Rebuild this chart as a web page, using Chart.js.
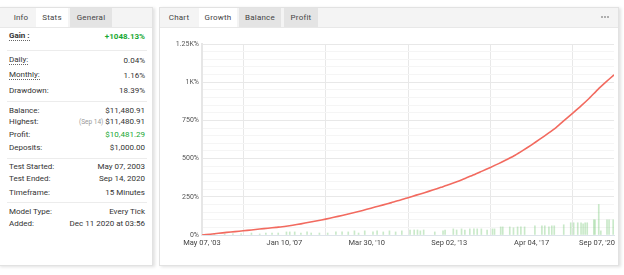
<!DOCTYPE html>
<html>
<head>
<meta charset="utf-8">
<script src="https://cdn.jsdelivr.net/npm/chart.js@4.4.0/dist/chart.umd.min.js"></script>
<style>
  body { margin: 0; background: #fff; font-family: Roboto, "Liberation Sans", sans-serif; color: #333; }
  .panel { position: absolute; background: #fff; border: 1px solid #e2e2e2; box-shadow: 2px 1px 3px rgba(0,0,0,0.12); overflow: hidden; }
  .head { position: absolute; left: 0; right: 0; top: 0; height: 19px; background: #f4f4f4; border-bottom: 1px solid #e8e8e8; }
  .tab { position: absolute; top: 0; height: 19px; line-height: 19px; font-size: 8px; text-align: center; color: #444; letter-spacing: 0.2px; }
  .tab.on { background: #fff; }
  .tab.dim { background: #e4e4e4; }
  .row { position: absolute; left: 10px; right: 7px; font-size: 8px; height: 11px; line-height: 11px; }
  .row .k { position: absolute; left: 0; }
  .row .k.tip { border-bottom: 1px dotted #666; line-height: 9px; }
  .row .v { position: absolute; right: 0; }
  .green { color: #17a832; }
  .small { color: #999; font-size: 6.5px; }
  .sep { position: absolute; left: 8px; right: 5px; height: 1px; background: #ececec; }
  .dots { position: absolute; top: 8px; width: 2px; height: 2px; border-radius: 1px; background: #999; }
</style>
</head>
<body>
<div class="panel" id="left" style="left:-2px; top:7px; width:153px; height:257px;">
  <div class="head">
    <div class="tab" style="left:9px; width:26px;">Info</div>
    <div class="tab on" style="left:37px; width:32px;">Stats</div>
    <div class="tab dim" style="left:71px; width:42px;">General</div>
  </div>
  <div class="row" style="top:23px;"><span class="k tip" style="font-weight:bold;">Gain :</span><span class="v green" style="font-weight:bold;">+1048.13%</span></div>
  <div class="sep" style="top:42px;"></div>
  <div class="row" style="top:47px;"><span class="k tip">Daily:</span><span class="v">0.04%</span></div>
  <div class="row" style="top:62px;"><span class="k tip">Monthly:</span><span class="v">1.16%</span></div>
  <div class="row" style="top:77px;"><span class="k">Drawdown:</span><span class="v">18.39%</span></div>
  <div class="sep" style="top:93px;"></div>
  <div class="row" style="top:97px;"><span class="k">Balance:</span><span class="v">$11,480.91</span></div>
  <div class="row" style="top:108px;"><span class="k">Highest:</span><span class="v"><span class="small">(Sep 14)</span> $11,480.91</span></div>
  <div class="row" style="top:121px;"><span class="k">Profit:</span><span class="v green">$10,481.29</span></div>
  <div class="row" style="top:134px;"><span class="k">Deposits:</span><span class="v">$1,000.00</span></div>
  <div class="sep" style="top:150px;"></div>
  <div class="row" style="top:153px;"><span class="k">Test Started:</span><span class="v">May 07, 2003</span></div>
  <div class="row" style="top:165px;"><span class="k">Test Ended:</span><span class="v">Sep 14, 2020</span></div>
  <div class="row" style="top:179px;"><span class="k">Timeframe:</span><span class="v">15 Minutes</span></div>
  <div class="sep" style="top:194px;"></div>
  <div class="row" style="top:198px;"><span class="k">Model Type:</span><span class="v">Every Tick</span></div>
  <div class="row" style="top:210px;"><span class="k">Added:</span><span class="v">Dec 11 2020 at 03:56</span></div>
</div>

<div class="panel" id="right" style="left:159px; top:7px; width:458px; height:257px;">
  <div class="head">
    <div class="tab" style="left:4px; width:30px;">Chart</div>
    <div class="tab on" style="left:39px; width:38px;">Growth</div>
    <div class="tab dim" style="left:79px; width:42px;">Balance</div>
    <div class="tab dim" style="left:124px; width:34px;">Profit</div>
    <div class="dots" style="left:441px;"></div>
    <div class="dots" style="left:444px;"></div>
    <div class="dots" style="left:447px;"></div>
  </div>
  <div style="position:absolute; left:0; top:22px; width:458px; height:225px;">
    <canvas id="growth"></canvas>
  </div>
</div>

<script>
// x position 0..100 across the test period, ticks every 20
const xTickLabels = ["May 07, '03", "Jan 10, '07", "Mar 30, '10", "Sep 02, '13", "Apr 04, '17", "Sep 07, '20"];
const yTickLabels = ['0%', '250%', '500%', '750%', '1K%', '1.25K%'];

const growthX = [0,2,4,6,8,10,12,14,16,18,20,22,24,26,28,30,32,34,36,38,40,42,44,46,48,50,
                 52,54,56,58,60,62,64,66,68,70,72,74,76,78,80,82,84,86,88,90,92,94,96,98,100];
const growthY = [0,5,11,17,22,28,33,39,44,50,56,64,73,83,93,104,116,128,141,154,168,183,197,212,227,244,
                 261,277,294,312,330,350,372,394,418,442,467,494,522,555,590,627,665,705,752,798,845,895,950,1000,1048];

// thin green bars along the bottom
const barX = [3,5.5,7.5,9.5,12,14,15.5,17,18.5,20.5,21.3,22.5,24,25.5,26.5,28.5,30.5,32.5,34,35.5,37,38,39.5,
              41.5,42.5,44,45.5,47,48.5,50.5,51.5,52.3,53,53.8,56.5,58.5,59,61,61.8,63,63.8,65,66,66.8,67.8,69.2,
              70.5,71,72.5,73,74.7,75.6,76.6,77.4,78.3,80.8,82.5,83.2,84.2,84.9,85.5,87.8,89.5,90.2,91.2,92,92.5,
              93,93.5,95.1,95.4,96.3,96.8,98.3,98.8,99.8];
const barY = [7,7,7,7,13,7,13,13,13,20,20,20,13,20,13,13,13,20,20,20,27,13,27,
              20,27,20,27,20,27,33,33,33,27,33,20,27,33,40,33,40,33,40,40,40,40,33,
              40,40,53,53,53,47,53,53,53,60,60,60,53,60,60,67,80,80,80,80,73,
              80,80,100,100,200,27,100,100,100];

const rightLast = {
  id: 'rightLast',
  beforeDraw(chart) {
    const s = chart.scales.x;
    const items = s.getLabelItems();
    if (items.length) {
      const last = items[items.length - 1];
      last.options.textAlign = 'right';
      last.options.translation[0] = s.right + 1;
    }
  }
};

const gridColor = ctx => (ctx.tick && ctx.tick.value % 250 === 0) ? '#e8e8e8' : '#f5f5f5';

new Chart(document.getElementById('growth'), {
  type: 'bar',
  data: {
    datasets: [
      {
        type: 'line',
        data: growthX.map((x, i) => ({ x: x, y: growthY[i] })),
        borderColor: '#f26a5f',
        borderWidth: 1.6,
        pointRadius: 0,
        tension: 0.2,
        order: 0
      },
      {
        type: 'bar',
        data: barX.map((x, i) => ({ x: x, y: barY[i] })),
        backgroundColor: 'rgba(120,200,120,0.4)',
        barThickness: 1,
        order: 1
      }
    ]
  },
  options: {
    responsive: true,
    maintainAspectRatio: false,
    animation: false,
    layout: { padding: { top: 14, right: 4, left: 0, bottom: 0 } },
    plugins: { legend: { display: false }, tooltip: { enabled: false } },
    scales: {
      x: {
        type: 'linear',
        min: 0, max: 100,
        offset: false,
        afterFit: s => { s.height = 20; s.paddingRight = 0; s.paddingLeft = 0; },
        ticks: {
          stepSize: 20,
          maxRotation: 0,
          autoSkip: false,
          padding: 4,
          color: '#444',
          font: { family: 'Roboto', size: 7.5 },
          callback: v => xTickLabels[v / 20]
        },
        grid: { color: '#e8e8e8', drawTicks: false },
        border: { color: '#dde3ea', width: 1 }
      },
      y: {
        min: 0, max: 1250,
        afterFit: s => { s.width = 42; },
        ticks: {
          stepSize: 50,
          autoSkip: false,
          padding: 3,
          color: '#555',
          font: { family: 'Roboto', size: 7 },
          callback: v => v % 250 === 0 ? yTickLabels[v / 250] : ''
        },
        grid: { color: gridColor, drawTicks: false },
        border: { color: '#e6e6e6', width: 2 }
      }
    }
  },
  plugins: [rightLast]
});
</script>
</body>
</html>
